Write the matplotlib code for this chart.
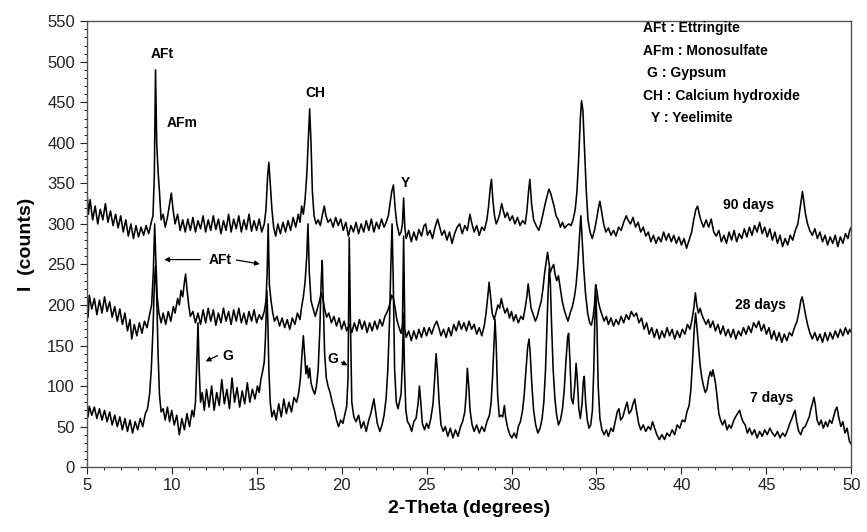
import matplotlib.pyplot as plt
from matplotlib.ticker import MultipleLocator

plt.rcParams["font.family"] = ["Liberation Sans", "DejaVu Sans"]

# 90 days trace (2-theta, counts)
t90_x = [5.0, 5.1, 5.2, 5.35, 5.5, 5.65, 5.8, 5.95, 6.1, 6.25, 6.4, 6.55, 6.7, 6.85, 7.0, 7.15, 7.3, 7.45,
         7.6, 7.75, 7.9, 8.05, 8.2, 8.35, 8.5, 8.65, 8.8, 8.9, 8.98, 9.05, 9.12, 9.2, 9.28, 9.38, 9.5, 9.62,
         9.75, 9.88, 9.98, 10.08, 10.2, 10.35, 10.5, 10.65, 10.8, 10.95, 11.1, 11.25, 11.4, 11.55, 11.7,
         11.85, 12.0, 12.15, 12.3, 12.45, 12.6, 12.75, 12.9, 13.05, 13.2, 13.35, 13.5, 13.65, 13.8, 13.95,
         14.1, 14.25, 14.4, 14.55, 14.7, 14.85, 15.0, 15.15, 15.3, 15.45, 15.55, 15.65, 15.72, 15.8, 15.9,
         16.0, 16.12, 16.25, 16.4, 16.55, 16.7, 16.85, 17.0, 17.15, 17.3, 17.45, 17.55, 17.65, 17.75, 17.85,
         17.95, 18.05, 18.12, 18.2, 18.28, 18.38, 18.5, 18.62, 18.75, 18.88, 18.98, 19.08, 19.2, 19.35, 19.5,
         19.65, 19.8, 19.95, 20.1, 20.25, 20.4, 20.55, 20.7, 20.85, 21.0, 21.15, 21.3, 21.45, 21.6, 21.75,
         21.9, 22.05, 22.2, 22.35, 22.5, 22.62, 22.75, 22.85, 22.95, 23.05, 23.15, 23.25, 23.4, 23.5, 23.58,
         23.65, 23.72, 23.8, 23.95, 24.1, 24.25, 24.4, 24.55, 24.7, 24.85, 24.95, 25.05, 25.2, 25.35, 25.5,
         25.65, 25.75, 25.9, 26.05, 26.2, 26.35, 26.5, 26.65, 26.8, 26.95, 27.1, 27.25, 27.4, 27.55, 27.65,
         27.8, 27.95, 28.1, 28.25, 28.4, 28.55, 28.65, 28.75, 28.82, 28.9, 29.0, 29.1, 29.2, 29.3, 29.42,
         29.52, 29.62, 29.75, 29.9, 30.05, 30.2, 30.35, 30.5, 30.65, 30.8, 30.9, 31.0, 31.08, 31.18, 31.3,
         31.45, 31.6, 31.72, 31.85, 31.98, 32.1, 32.2, 32.3, 32.4, 32.5, 32.62, 32.75, 32.88, 33.0, 33.12,
         33.25, 33.38, 33.5, 33.62, 33.75, 33.85, 33.95, 34.05, 34.12, 34.2, 34.3, 34.4, 34.5, 34.62, 34.75,
         34.88, 35.0, 35.1, 35.2, 35.3, 35.42, 35.55, 35.7, 35.85, 36.0, 36.15, 36.3, 36.45, 36.6, 36.75,
         36.85, 37.0, 37.15, 37.3, 37.45, 37.6, 37.75, 37.9, 38.05, 38.2, 38.35, 38.5, 38.65, 38.8, 38.95,
         39.1, 39.25, 39.4, 39.55, 39.7, 39.85, 40.0, 40.15, 40.3, 40.45, 40.6, 40.72, 40.85, 40.95, 41.05,
         41.15, 41.3, 41.45, 41.6, 41.75, 41.9, 42.05, 42.2, 42.35, 42.5, 42.65, 42.8, 42.95, 43.1, 43.25,
         43.4, 43.55, 43.7, 43.85, 44.0, 44.15, 44.3, 44.45, 44.6, 44.75, 44.9, 45.05, 45.2, 45.35, 45.5,
         45.65, 45.8, 45.95, 46.1, 46.25, 46.4, 46.55, 46.7, 46.85, 46.95, 47.05, 47.12, 47.2, 47.3, 47.42,
         47.55, 47.7, 47.85, 48.0, 48.15, 48.3, 48.45, 48.6, 48.75, 48.9, 49.05, 49.2, 49.35, 49.5, 49.65,
         49.8, 49.9, 50.0]
t90_y = [345, 312, 330, 305, 322, 300, 318, 305, 325, 302, 316, 298, 312, 295, 310, 290, 305, 285,
         300, 282, 298, 284, 296, 286, 298, 288, 302, 310, 360, 490, 400, 365, 340, 305, 312, 296,
         308, 325, 338, 318, 300, 312, 292, 305, 290, 306, 292, 308, 290, 304, 294,
         310, 290, 305, 292, 310, 293, 306, 288, 304, 292, 312, 290, 306, 294, 310,
         290, 305, 293, 312, 291, 304, 292, 306, 290, 300, 318, 360, 376, 350, 318,
         296, 285, 300, 288, 302, 290, 304, 292, 308, 296, 312, 302, 322, 312, 330,
         360, 410, 442, 400, 340, 310, 300, 305, 298, 312, 322, 310, 302, 306, 296,
         308, 298, 306, 292, 302, 285, 298, 290, 302, 288, 300, 290, 304, 292, 306,
         290, 302, 294, 306, 296, 302, 310, 325, 340, 348, 320, 300, 286, 290, 300,
         332, 296, 282, 292, 278, 290, 280, 293, 285, 298, 300, 286, 292, 282, 296,
         306, 298, 286, 292, 280, 290, 276, 288, 296, 300, 288, 298, 292, 312, 302,
         290, 298, 286, 296, 292, 305, 322, 345, 355, 330, 310, 300, 305, 312, 325,
         316, 308, 314, 304, 310, 300, 308, 298, 304, 300, 315, 340, 355, 325, 305,
         298, 292, 300, 312, 325, 335, 343, 338, 330, 322, 310, 305, 296, 302, 295,
         298, 300, 298, 305, 318, 340, 380, 430, 452, 440, 390, 340, 305, 290, 282,
         292, 305, 318, 328, 315, 300, 290, 295, 286, 292, 285, 296, 292, 302, 310,
         305, 300, 308, 296, 302, 290, 296, 285, 290, 278, 286, 276, 284, 278, 290,
         280, 288, 278, 286, 276, 284, 274, 282, 270, 280, 290, 305, 318, 322, 312,
         304, 296, 305, 296, 306, 290, 285, 292, 278, 286, 276, 290, 280, 292, 278,
         288, 282, 294, 284, 296, 286, 298, 290, 302, 288, 296, 284, 294, 280, 290,
         276, 286, 272, 282, 274, 286, 280, 292, 300, 315, 330, 340, 328, 312, 300,
         292, 286, 294, 282, 290, 278, 286, 274, 284, 276, 286, 272, 284, 276, 288,
         282, 292, 296]

# 28 days trace
t28_x = [5.0, 5.08, 5.15, 5.3, 5.45, 5.6, 5.75, 5.9, 6.05, 6.2, 6.35, 6.5, 6.65, 6.8, 6.95, 7.1, 7.25,
         7.4, 7.55, 7.65, 7.8, 7.95, 8.1, 8.25, 8.4, 8.55, 8.7, 8.82, 8.92, 9.0, 9.07, 9.15, 9.25, 9.38,
         9.5, 9.65, 9.8, 9.95, 10.1, 10.2, 10.35, 10.45, 10.55, 10.65, 10.75, 10.82, 10.9, 11.0, 11.1,
         11.25, 11.4, 11.55, 11.7, 11.85, 12.0, 12.15, 12.3, 12.45, 12.6, 12.75, 12.9, 13.05, 13.2, 13.35,
         13.5, 13.65, 13.8, 13.95, 14.1, 14.25, 14.4, 14.55, 14.7, 14.85, 15.0, 15.15, 15.3, 15.45, 15.55,
         15.62, 15.68, 15.75, 15.85, 15.95, 16.05, 16.2, 16.35, 16.5, 16.65, 16.8, 16.95, 17.1, 17.25,
         17.4, 17.55, 17.65, 17.75, 17.85, 17.95, 18.02, 18.1, 18.2, 18.32, 18.45, 18.58, 18.7, 18.8,
         18.9, 19.0, 19.12, 19.25, 19.4, 19.55, 19.7, 19.85, 20.0, 20.15, 20.3, 20.45, 20.6, 20.75, 20.9,
         21.05, 21.2, 21.35, 21.5, 21.65, 21.8, 21.95, 22.1, 22.25, 22.4, 22.55, 22.7, 22.82, 22.95,
         23.05, 23.15, 23.25, 23.38, 23.5, 23.58, 23.65, 23.72, 23.8, 23.95, 24.1, 24.25, 24.4, 24.55,
         24.7, 24.85, 25.0, 25.15, 25.3, 25.45, 25.6, 25.72, 25.85, 26.0, 26.15, 26.3, 26.45, 26.6, 26.75,
         26.9, 27.05, 27.2, 27.35, 27.5, 27.65, 27.8, 27.95, 28.1, 28.25, 28.4, 28.5, 28.6, 28.68, 28.76,
         28.86, 28.98, 29.1, 29.2, 29.3, 29.4, 29.5, 29.62, 29.75, 29.88, 30.0, 30.12, 30.25, 30.4, 30.55,
         30.68, 30.8, 30.9, 30.98, 31.06, 31.15, 31.28, 31.4, 31.52, 31.62, 31.75, 31.85, 31.95, 32.05,
         32.12, 32.2, 32.28, 32.38, 32.48, 32.56, 32.66, 32.76, 32.86, 32.98, 33.1, 33.22, 33.32, 33.45,
         33.58, 33.7, 33.8, 33.9, 34.0, 34.08, 34.16, 34.25, 34.35, 34.48, 34.6, 34.7, 34.8, 34.88, 34.95,
         35.02, 35.1, 35.2, 35.32, 35.45, 35.58, 35.7, 35.85, 36.0, 36.15, 36.3, 36.45, 36.6, 36.75, 36.9,
         37.05, 37.2, 37.35, 37.5, 37.65, 37.8, 37.95, 38.1, 38.25, 38.4, 38.55, 38.7, 38.85, 39.0, 39.15,
         39.3, 39.45, 39.6, 39.75, 39.9, 40.05, 40.2, 40.35, 40.5, 40.62, 40.72, 40.82, 40.9, 41.0, 41.1,
         41.2, 41.32, 41.45, 41.58, 41.7, 41.85, 42.0, 42.15, 42.3, 42.45, 42.6, 42.75, 42.9, 43.05, 43.2,
         43.35, 43.5, 43.65, 43.8, 43.95, 44.1, 44.25, 44.4, 44.55, 44.7, 44.85, 45.0, 45.15, 45.3, 45.45,
         45.6, 45.75, 45.9, 46.05, 46.2, 46.35, 46.5, 46.65, 46.8, 46.92, 47.02, 47.1, 47.2, 47.3, 47.42,
         47.55, 47.7, 47.85, 48.0, 48.15, 48.3, 48.45, 48.6, 48.75, 48.9, 49.05, 49.2, 49.35, 49.5, 49.65,
         49.8, 49.9, 50.0]
t28_y = [215, 185, 212, 195, 208, 188, 206, 190, 210, 192, 204, 185, 198, 180, 195, 176, 190,
         168, 182, 158, 176, 162, 178, 165, 180, 172, 188, 200, 240, 300, 255, 210, 190, 178,
         190, 176, 192, 180, 198, 190, 208, 200, 218, 210, 228, 238, 220, 200, 186,
         192, 178, 190, 176, 194, 178, 196, 180, 194, 175, 190, 178, 196, 180, 192,
         176, 194, 180, 196, 178, 190, 176, 192, 180, 194, 178, 188, 182, 192, 205,
         240, 300, 225, 205, 190, 180, 186, 174, 184, 172, 182, 170, 184, 176,
         190, 182, 198, 210, 228, 260, 300, 240, 205, 196, 186, 196, 205, 215,
         208, 195, 185, 190, 178, 186, 174, 184, 170, 180, 168, 176, 166, 178, 168,
         182, 170, 180, 166, 178, 168, 180, 170, 182, 174, 186, 192, 200, 212,
         208, 196, 182, 172, 165, 175, 285, 170, 160, 168, 156, 168, 158, 170,
         160, 172, 162, 172, 164, 174, 180, 172, 162, 170, 160, 172, 162, 176, 168,
         180, 170, 178, 168, 180, 170, 176, 164, 172, 162, 175, 190, 210, 228, 212,
         190, 182, 192, 200, 196, 208, 198, 190, 196, 184, 192, 180, 188, 178, 186,
         182, 196, 210, 226, 212, 196, 188, 180, 186, 195, 205, 220, 240, 255,
         265, 252, 240, 246, 250, 238, 230, 236, 222, 205, 194, 186, 180, 190,
         198, 210, 225, 250, 285, 310, 280, 245, 215, 190, 178, 175, 185, 200, 225,
         218, 205, 196, 188, 180, 186, 176, 184, 174, 182, 176, 186, 178, 188, 182,
         192, 186, 190, 178, 184, 170, 178, 164, 172, 160, 170, 158, 168, 160, 172,
         162, 170, 158, 168, 160, 170, 164, 176, 170, 182, 195, 215, 200, 190, 196,
         188, 182, 176, 182, 172, 180, 168, 176, 164, 174, 162, 170, 160, 170, 158,
         168, 162, 172, 164, 174, 166, 178, 172, 180, 168, 176, 164, 172, 158, 168,
         156, 166, 154, 164, 156, 166, 162, 172, 180, 192, 205, 210, 200, 188, 176,
         166, 158, 166, 156, 164, 154, 166, 156, 166, 158, 168, 160, 170, 162, 172,
         164, 170, 166]

# 7 days trace
t7_x = [5.0, 5.08, 5.15, 5.3, 5.45, 5.6, 5.75, 5.9, 6.05, 6.2, 6.35, 6.5, 6.65, 6.8, 6.95, 7.1, 7.25,
        7.4, 7.55, 7.7, 7.85, 8.0, 8.15, 8.3, 8.45, 8.58, 8.7, 8.8, 8.9, 8.98, 9.05, 9.12, 9.2, 9.28,
        9.38, 9.5, 9.62, 9.75, 9.88, 10.0, 10.15, 10.3, 10.45, 10.6, 10.75, 10.9, 11.05, 11.2, 11.3,
        11.4, 11.48, 11.55, 11.62, 11.7, 11.8, 11.92, 12.05, 12.2, 12.35, 12.5, 12.65, 12.8, 12.95,
        13.1, 13.25, 13.4, 13.55, 13.7, 13.85, 14.0, 14.15, 14.3, 14.45, 14.6, 14.75, 14.9, 15.05,
        15.15, 15.25, 15.35, 15.45, 15.52, 15.6, 15.66, 15.72, 15.8, 15.9, 16.02, 16.15, 16.3, 16.45,
        16.6, 16.75, 16.9, 17.05, 17.2, 17.35, 17.48, 17.58, 17.67, 17.75, 17.82, 17.9, 17.98, 18.05,
        18.12, 18.2, 18.3, 18.42, 18.52, 18.62, 18.72, 18.8, 18.86, 18.93, 19.0, 19.1, 19.2, 19.32,
        19.45, 19.58, 19.7, 19.82, 19.95, 20.08, 20.2, 20.3, 20.38, 20.45, 20.52, 20.6, 20.72, 20.85,
        21.0, 21.15, 21.3, 21.45, 21.6, 21.72, 21.82, 21.9, 21.98, 22.1, 22.25, 22.38, 22.5, 22.62,
        22.72, 22.82, 22.9, 22.97, 23.04, 23.12, 23.22, 23.32, 23.42, 23.5, 23.58, 23.64, 23.7, 23.78,
        23.88, 24.0, 24.12, 24.25, 24.38, 24.5, 24.58, 24.66, 24.75, 24.88, 25.0, 25.12, 25.25, 25.38,
        25.48, 25.56, 25.64, 25.74, 25.85, 25.98, 26.1, 26.25, 26.4, 26.55, 26.7, 26.85, 27.0, 27.12,
        27.25, 27.33, 27.4, 27.48, 27.56, 27.68, 27.8, 27.95, 28.1, 28.25, 28.4, 28.55, 28.7, 28.8,
        28.88, 28.96, 29.03, 29.1, 29.18, 29.28, 29.38, 29.48, 29.58, 29.66, 29.78, 29.9, 30.02, 30.15,
        30.28, 30.4, 30.52, 30.65, 30.75, 30.85, 30.95, 31.03, 31.1, 31.2, 31.3, 31.42, 31.55, 31.68,
        31.8, 31.9, 32.0, 32.08, 32.15, 32.22, 32.28, 32.35, 32.45, 32.55, 32.65, 32.76, 32.88, 33.0,
        33.1, 33.2, 33.3, 33.36, 33.44, 33.52, 33.62, 33.72, 33.8, 33.88, 33.96, 34.05, 34.15, 34.22,
        34.28, 34.36, 34.46, 34.56, 34.66, 34.76, 34.84, 34.9, 34.96, 35.02, 35.1, 35.2, 35.32, 35.45,
        35.58, 35.7, 35.85, 35.98, 36.1, 36.22, 36.32, 36.42, 36.55, 36.68, 36.8, 36.92, 37.05, 37.15,
        37.25, 37.35, 37.48, 37.6, 37.75, 37.9, 38.05, 38.18, 38.3, 38.42, 38.55, 38.7, 38.85, 39.0,
        39.15, 39.3, 39.45, 39.6, 39.75, 39.9, 40.05, 40.2, 40.32, 40.45, 40.55, 40.65, 40.75, 40.83,
        40.9, 41.0, 41.1, 41.2, 41.3, 41.4, 41.5, 41.6, 41.7, 41.78, 41.85, 41.93, 42.0, 42.1, 42.2,
        42.3, 42.42, 42.55, 42.68, 42.8, 42.92, 43.05, 43.18, 43.3, 43.42, 43.52, 43.62, 43.75, 43.88,
        44.0, 44.15, 44.3, 44.45, 44.6, 44.75, 44.9, 45.05, 45.2, 45.35, 45.5, 45.65, 45.8, 45.95,
        46.1, 46.25, 46.38, 46.5, 46.6, 46.68, 46.78, 46.9, 47.02, 47.15, 47.28, 47.4, 47.52, 47.62,
        47.72, 47.8, 47.88, 47.98, 48.1, 48.22, 48.35, 48.48, 48.6, 48.72, 48.85, 48.95, 49.05, 49.15,
        49.25, 49.38, 49.5, 49.62, 49.75, 49.88, 50.0]
t7_y = [80, 62, 75, 64, 74, 60, 72, 58, 70, 56, 68, 52, 64, 50, 62, 46, 60,
        44, 58, 42, 56, 46, 60, 50, 66, 72, 90, 120, 170, 225, 248, 210, 140, 90,
        68, 72, 58, 74, 56, 70, 52, 64, 40, 60, 46, 66, 50, 70, 62,
        80, 130, 178, 120, 80, 92, 70, 96, 74, 100, 70, 92, 76, 108,
        78, 96, 72, 110, 80, 98, 74, 94, 78, 104, 80, 96, 84, 100,
        92, 108, 118, 130, 160, 218, 180, 120, 80, 62, 70, 58, 78, 62,
        84, 66, 80, 68, 86, 80, 92, 110, 140, 162, 140, 115, 125, 110,
        122, 104, 96, 90, 100, 120, 170, 230, 255, 200, 140, 110, 100, 92,
        80, 70, 58, 50, 58, 54, 66, 75, 110, 283, 180, 80, 62, 56,
        64, 48, 56, 44, 58, 66, 76, 84, 72, 54, 44, 52, 64, 85,
        120, 180, 250, 300, 230, 120, 80, 72, 82, 90, 130, 190, 120, 70,
        56, 52, 44, 56, 60, 78, 100, 80, 54, 46, 54, 48, 60, 78,
        110, 140, 118, 80, 52, 44, 50, 38, 48, 36, 46, 38, 50, 56,
        68, 90, 122, 100, 70, 52, 44, 52, 42, 50, 44, 56, 64, 80,
        110, 150, 182, 150, 90, 62, 64, 62, 76, 60, 48, 40, 36, 42,
        36, 50, 56, 70, 90, 120, 148, 158, 140, 100, 70, 52, 42, 48,
        60, 80, 120, 170, 215, 245, 230, 180, 120, 85, 65, 52, 58, 72,
        95, 130, 160, 165, 130, 85, 78, 100, 128, 105, 72, 60, 78, 105,
        112, 80, 58, 48, 52, 70, 120, 180, 215, 180, 100, 60, 46, 40,
        46, 38, 48, 44, 56, 68, 72, 58, 62, 72, 80, 66, 70, 78,
        84, 70, 54, 46, 52, 44, 50, 46, 56, 48, 40, 34, 40, 34,
        42, 38, 46, 40, 52, 48, 58, 56, 68, 76, 95, 130, 170, 190,
        175, 150, 125, 110, 100, 92, 96, 110, 118, 112, 120, 112, 104, 86, 66,
        58, 52, 58, 46, 52, 48, 56, 62, 66, 70, 62, 56, 52, 42,
        48, 40, 46, 36, 44, 38, 46, 40, 48, 42, 38, 44, 36, 42,
        38, 46, 54, 60, 66, 70, 56, 44, 40, 48, 50, 56, 62, 72,
        80, 86, 76, 58, 52, 58, 48, 56, 50, 58, 54, 62, 70, 74,
        62, 50, 56, 42, 48, 32, 28]

phase_legend = ["AFt : Ettringite", "AFm : Monosulfate", "G : Gypsum",
                "CH : Calcium hydroxide", "Y : Yeelimite"]

fig = plt.figure(figsize=(8.67, 5.32), dpi=100)
ax = fig.add_axes([0.100, 0.122, 0.882, 0.838])

for xs, ys in [(t7_x, t7_y), (t28_x, t28_y), (t90_x, t90_y)]:
    ax.plot(xs, ys, color="black", linewidth=1.15)

ax.set_xlim(5, 50)
ax.set_ylim(0, 550)
ax.xaxis.set_major_locator(MultipleLocator(5))
ax.xaxis.set_minor_locator(MultipleLocator(1))
ax.yaxis.set_major_locator(MultipleLocator(50))
ax.yaxis.set_minor_locator(MultipleLocator(10))
ax.tick_params(which="major", direction="out", length=5, width=0.8, labelsize=12, colors="#222222")
ax.tick_params(which="minor", direction="out", length=2.5, width=0.6)
ax.tick_params(axis="x", pad=3)
for sp in ax.spines.values():
    sp.set_color("#555555")
    sp.set_linewidth(1.0)

ax.set_xlabel("2-Theta (degrees)", fontsize=14, fontweight="bold", labelpad=5)
ax.set_ylabel("I  (counts)", fontsize=14, fontweight="bold", labelpad=9)

bold = dict(fontsize=10, fontweight="bold", ha="center", va="center")
ax.text(9.45, 510, "AFt", **bold)
ax.text(10.6, 424, "AFm", **bold)
ax.text(18.45, 462, "CH", **bold)
ax.text(23.74, 350, "Y", **bold)
ax.text(12.85, 256, "AFt", **bold)
ax.text(13.3, 137, "G", **bold)
ax.text(19.5, 133, "G", **bold)
ax.text(43.96, 323, "90 days", **bold)
ax.text(44.67, 200, "28 days", **bold)
ax.text(45.3, 85, "7 days", **bold)

arrow = dict(arrowstyle="-|>", color="black", lw=0.9, mutation_scale=7)
ax.annotate("", xy=(9.4, 256), xytext=(11.85, 256), arrowprops=arrow)
ax.annotate("", xy=(15.35, 250), xytext=(13.65, 256), arrowprops=arrow)
ax.annotate("", xy=(11.85, 129), xytext=(12.85, 139), arrowprops=arrow)
ax.annotate("", xy=(20.5, 124), xytext=(19.85, 131), arrowprops=arrow)

legend_x = [643, 643, 647, 643, 651]
for i, (txt, px) in enumerate(zip(phase_legend, legend_x)):
    fig.text(px / 867, 1 - (28 + 22.6 * i) / 532, txt, fontsize=10, fontweight="bold",
             ha="left", va="center")

fig.savefig("out.png", dpi=100, facecolor="white")
